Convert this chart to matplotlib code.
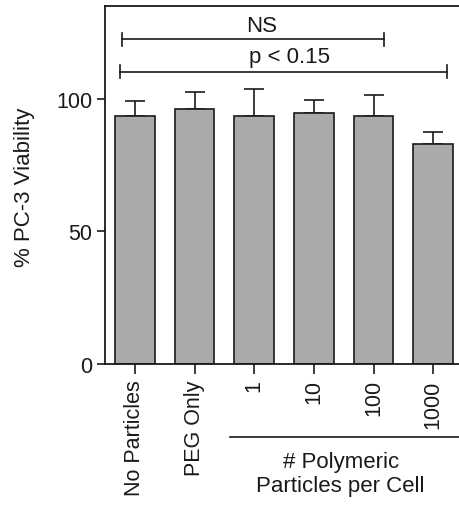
import matplotlib
matplotlib.use("Agg")
import matplotlib.pyplot as plt

plt.rcParams['font.family'] = ['Liberation Sans', 'DejaVu Sans']

categories = ["No Particles", "PEG Only", "1", "10", "100", "1000"]
viability = [93.7, 96.2, 93.7, 94.6, 93.4, 83.1]
err_upper = [5.4, 6.5, 10.1, 5.0, 8.2, 4.2]
sig_labels = ["NS", "p < 0.15"]
group_label = "# Polymeric\nParticles per Cell"
y_ticks = [0, 50, 100]

W, H = 459, 506
fig = plt.figure(figsize=(W / 100, H / 100), dpi=100)
ax_left, ax_top, ax_bottom, ax_right = 105, 7, 365, 463
ax = fig.add_axes([ax_left / W, 1 - ax_bottom / H, (ax_right - ax_left) / W, (ax_bottom - ax_top) / H])

dark = '#1a1a1a'
x = list(range(len(categories)))
ax.bar(x, viability, width=0.67, color='#aaaaaa', edgecolor=dark, linewidth=1.2, zorder=2)
ax.errorbar(x, viability, yerr=[[0] * len(err_upper), err_upper], fmt='none',
            ecolor=dark, elinewidth=1.2, capsize=7.5, capthick=1.2, zorder=1)

ax.set_xlim(-0.5, 5.5)
ax.set_ylim(0, 135)
ax.set_yticks(y_ticks)
ax.set_xticks(x)
ax.set_xticklabels(categories, rotation=90, fontsize=15.5, color=dark)
ax.tick_params(axis='y', labelsize=15.5, length=6, width=1.2, colors=dark, pad=3)
ax.tick_params(axis='x', length=7, width=1.2, colors=dark, pad=4)
for s in ax.spines.values():
    s.set_linewidth(1.3)
    s.set_color(dark)

ax.set_ylabel("% PC-3 Viability", fontsize=16, color=dark, va='center')
ax.yaxis.set_label_coords(-0.226, 0.496)

# significance brackets
brackets = [(-0.22, 4.17, 122.4, 2.13, 127.8), (-0.25, 5.23, 110.3, 2.59, 115.8)]
for (x0, x1, yb, tx, ty), lab in zip(brackets, sig_labels):
    ax.plot([x0, x1], [yb, yb], color=dark, lw=1.2, clip_on=False)
    for xe in (x0, x1):
        ax.plot([xe, xe], [yb - 2.5, yb + 2.5], color=dark, lw=1.2, clip_on=False)
    ax.text(tx, ty, lab, fontsize=16, color=dark, ha='center', va='center')

# group line and label under axis
trans = ax.get_xaxis_transform()
ax.plot([1.59, 5.45], [-0.203, -0.203], transform=trans, color=dark, lw=1.2, clip_on=False)
ax.text(3.45, -0.306, group_label, transform=trans, fontsize=16, color=dark,
        ha='center', va='center', linespacing=1.2)

fig.savefig("out.png", dpi=100)
